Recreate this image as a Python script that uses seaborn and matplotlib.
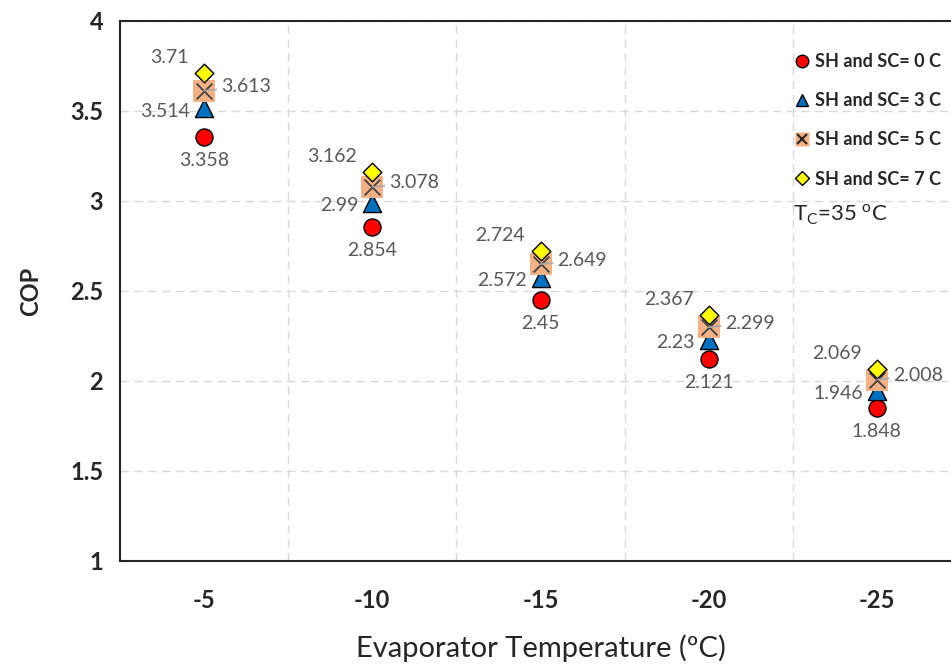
import matplotlib.pyplot as plt
import matplotlib.ticker as mticker
from matplotlib.lines import Line2D
import seaborn as sb
import pandas as pd

# data
temps = ["-5", "-10", "-15", "-20", "-25"]
cop_0 = [3.358, 2.854, 2.45, 2.121, 1.848]
cop_3 = [3.514, 2.99, 2.572, 2.23, 1.946]
cop_5 = [3.613, 3.078, 2.649, 2.299, 2.008]
cop_7 = [3.71, 3.162, 2.724, 2.367, 2.069]
series_names = ["SH and SC= 0 C", "SH and SC= 3 C", "SH and SC= 5 C", "SH and SC= 7 C"]

df = pd.DataFrame({"T": temps, "c0": cop_0, "c3": cop_3, "c5": cop_5, "c7": cop_7})

sb.set_style("white")
plt.rcParams["font.family"] = ["Lato", "DejaVu Sans"]

fig = plt.figure(figsize=(9.51, 6.66), dpi=100)
ax = fig.add_axes([120 / 951, 105 / 666, 841 / 951, 540 / 666])

# markers
sb.scatterplot(data=df, x="T", y="c0", marker="o", s=150, color="#ff0000",
               edgecolor="black", linewidth=1, ax=ax, zorder=3)
sb.scatterplot(data=df, x="T", y="c3", marker="^", s=170, color="#0070c0",
               edgecolor="black", linewidth=1, ax=ax, zorder=4)
sb.scatterplot(data=df, x="T", y="c5", marker="s", s=230, color="#f4b183",
               linewidth=0, ax=ax, zorder=5)
sb.scatterplot(data=df, x="T", y="c5", marker="x", s=130, color="#404040",
               linewidth=1.3, ax=ax, zorder=6)
sb.scatterplot(data=df, x="T", y="c7", marker="D", s=90, color="#ffff00",
               edgecolor="black", linewidth=1, ax=ax, zorder=7)

# data labels
lab_kw = dict(textcoords="offset points", fontsize=14, color="#595959", zorder=8)
for i in range(len(temps)):
    ax.annotate(f"{cop_0[i]:g}", (i, cop_0[i]), xytext=(0, -17), ha="center", va="center", **lab_kw)
    ax.annotate(f"{cop_3[i]:g}", (i, cop_3[i]), xytext=(-10, -2), ha="right", va="center", **lab_kw)
    ax.annotate(f"{cop_5[i]:g}", (i, cop_5[i]), xytext=(12, 3), ha="left", va="center",
                arrowprops=dict(arrowstyle="-", color="#a6a6a6", lw=1.2, shrinkA=1, shrinkB=0), **lab_kw)
    ax.annotate(f"{cop_7[i]:g}", (i, cop_7[i]), xytext=(-11, 11), ha="right", va="center", **lab_kw)

ax.set_xlim(-0.5, 4.5)
ax.set_ylim(1, 4)
ax.set_yticks([1, 1.5, 2, 2.5, 3, 3.5, 4])
ax.yaxis.set_major_formatter(mticker.FuncFormatter(lambda v, p: f"{v:g}"))
ax.set_xticks(range(len(temps)))
ax.set_xticklabels(temps)
ax.set_xticks([0.5, 1.5, 2.5, 3.5], minor=True)

ax.grid(False)
ax.grid(axis="y", which="major", color="#d9d9d9", linestyle=(0, (6, 4)), lw=1)
ax.grid(axis="x", which="minor", color="#d9d9d9", linestyle=(0, (6, 4)), lw=1)
ax.tick_params(axis="both", which="both", length=0)
ax.tick_params(axis="x", pad=20, labelsize=17)
ax.tick_params(axis="y", pad=12, labelsize=17)
for t in ax.get_xticklabels() + ax.get_yticklabels():
    t.set_fontweight("bold")
    t.set_color("#262626")

for sp in ax.spines.values():
    sp.set_color("#262626")
    sp.set_linewidth(1.5)

ax.set_xlabel("Evaporator Temperature (ºC)", fontsize=21, color="#262626", labelpad=16)
ax.set_ylabel("COP", fontsize=17, fontweight="bold", color="#262626", labelpad=20)

# legend
h0 = Line2D([], [], ls="", marker="o", ms=9, mfc="#ff0000", mec="black")
h3 = Line2D([], [], ls="", marker="^", ms=9, mfc="#0070c0", mec="black")
h5 = (Line2D([], [], ls="", marker="s", ms=10, mfc="#f4b183", mec="none"),
      Line2D([], [], ls="", marker="x", ms=7.5, mec="#262626", mew=1.5))
h7 = Line2D([], [], ls="", marker="D", ms=7, mfc="#ffff00", mec="black")
leg = ax.legend([h0, h3, h5, h7], series_names, loc="upper left",
                bbox_to_anchor=(673 / 841, 1 - 32 / 540), frameon=False,
                borderaxespad=0, borderpad=0,
                prop=dict(weight="bold", size=13), handletextpad=0.2,
                handlelength=1.0, labelspacing=1.23)

ax.text(673 / 841, 1 - 194 / 540, r"T$_\mathregular{C}$=35 $^\mathregular{o}$C",
        transform=ax.transAxes, fontsize=16, color="#262626", va="center", ha="left")

plt.savefig("out.png", dpi=100)
